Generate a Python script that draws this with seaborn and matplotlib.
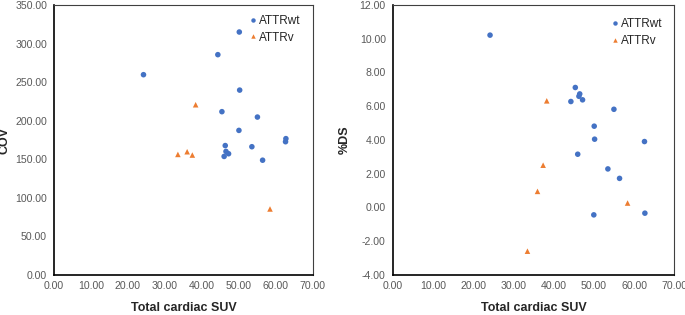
import pandas as pd
import matplotlib.pyplot as plt
import seaborn as sns
from matplotlib.ticker import FormatStrFormatter

# Total cardiac SUV per patient
suv_wt = [24.2, 44.3, 45.4, 46.0, 46.3, 46.5, 47.2, 50.0, 50.1, 50.2, 53.5, 55.0, 56.4, 62.6, 62.7]
suv_v = [33.5, 36.0, 37.4, 38.3, 58.4]

# COV values
cov_wt = [260.0, 286.0, 212.0, 153.9, 168.0, 160.4, 157.4, 187.7, 315.4, 240.0, 166.5, 205.0, 149.0, 173.0, 177.0]
cov_v = [156.5, 160.0, 155.7, 221.0, 85.7]

# %DS values
ds_wt = [10.2, 6.27, 7.10, 3.15, 6.58, 6.72, 6.37, -0.44, 4.81, 4.04, 2.28, 5.81, 1.72, 3.90, -0.34]
ds_v = [-2.59, 0.95, 2.50, 6.31, 0.26]

groups = ["ATTRwt"] * len(suv_wt) + ["ATTRv"] * len(suv_v)
df = pd.DataFrame({
    "suv": suv_wt + suv_v,
    "cov": cov_wt + cov_v,
    "ds": ds_wt + ds_v,
    "group": groups,
})

sns.set_style("white")
plt.rcParams["font.family"] = ["Liberation Sans", "DejaVu Sans"]

palette = {"ATTRwt": "#4472C4", "ATTRv": "#ED7D31"}
markers = {"ATTRwt": "o", "ATTRv": "^"}

fig = plt.figure(figsize=(6.85, 3.15), dpi=100)
ax1 = fig.add_axes([0.0788, 0.127, 0.378, 0.856])
ax2 = fig.add_axes([0.5733, 0.127, 0.411, 0.858])

panels = [
    (ax1, "cov", "COV", (0, 350), range(0, 351, 50), (0.99, 1.0), -0.166),
    (ax2, "ds", "%DS", (-4, 12), range(-4, 13, 2), (0.99, 0.985), -0.148),
]

for ax, col, label, ylim, yticks, anchor, ylab_x in panels:
    sns.scatterplot(data=df, x="suv", y=col, hue="group", style="group",
                    palette=palette, markers=markers, s=16, linewidth=0, ax=ax)
    ax.set_xlim(0, 70)
    ax.set_ylim(*ylim)
    ax.set_xticks(range(0, 71, 10))
    ax.set_yticks(list(yticks))
    ax.xaxis.set_major_formatter(FormatStrFormatter("%.2f"))
    ax.yaxis.set_major_formatter(FormatStrFormatter("%.2f"))
    ax.tick_params(axis="both", labelsize=7.6, labelcolor="#595959", colors="black",
                   length=3, width=1)
    ax.tick_params(axis="x", direction="in", pad=4)
    ax.tick_params(axis="y", direction="out", pad=2)
    for side in ["left", "bottom"]:
        ax.spines[side].set_color("black")
        ax.spines[side].set_linewidth(1.2)
    for side in ["top", "right"]:
        ax.spines[side].set_color("#404040")
        ax.spines[side].set_linewidth(0.8)
    ax.set_xlabel("Total cardiac SUV", fontsize=9, fontweight="bold")
    ax.set_ylabel(label, fontsize=9, fontweight="bold")
    ax.xaxis.set_label_coords(0.5, -0.1)
    ax.yaxis.set_label_coords(ylab_x, 0.5)
    ax.legend(title=None, loc="upper right", bbox_to_anchor=anchor, frameon=False,
              fontsize=8.5, handlelength=0.6, handletextpad=0.2, labelspacing=0.4,
              borderpad=0.3, markerscale=0.8)

fig.savefig("out.png", dpi=100)
plt.close(fig)
